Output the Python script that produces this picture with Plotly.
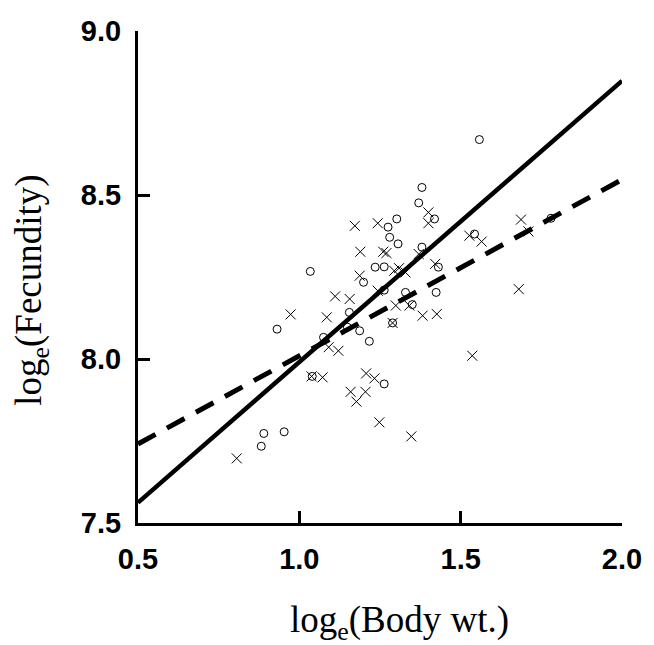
import plotly.graph_objects as go

# Circles (open) : log body weight, log fecundity
circle_x = [1.034, 0.931, 1.075, 1.040, 0.890, 0.953, 0.882, 1.380, 1.370, 1.419,
            1.302, 1.275, 1.280, 1.306, 1.380, 1.235, 1.263, 1.431, 1.199, 1.263,
            1.329, 1.424, 1.350, 1.155, 1.149, 1.187, 1.217, 1.289, 1.263, 1.558,
            1.543, 1.780]
circle_y = [8.267, 8.091, 8.066, 7.947, 7.773, 7.778, 7.734, 8.523, 8.476, 8.427,
            8.427, 8.402, 8.371, 8.351, 8.341, 8.280, 8.281, 8.280, 8.234, 8.210,
            8.203, 8.203, 8.166, 8.142, 8.097, 8.086, 8.054, 8.110, 7.924, 8.669,
            8.381, 8.429]

# Crosses
cross_x = [1.111, 0.973, 1.085, 1.091, 1.121, 1.038, 1.072, 0.806, 1.172, 1.243,
           1.400, 1.400, 1.189, 1.260, 1.270, 1.187, 1.294, 1.309, 1.329, 1.370,
           1.421, 1.156, 1.243, 1.299, 1.341, 1.382, 1.426, 1.289, 1.207, 1.233,
           1.159, 1.205, 1.177, 1.248, 1.347, 1.527, 1.565, 1.687, 1.710, 1.680,
           1.536]
cross_y = [8.191, 8.136, 8.127, 8.036, 8.025, 7.947, 7.944, 7.697, 8.406, 8.414,
           8.447, 8.414, 8.327, 8.327, 8.323, 8.254, 8.269, 8.277, 8.264, 8.320,
           8.290, 8.183, 8.208, 8.163, 8.163, 8.132, 8.137, 8.110, 7.956, 7.941,
           7.900, 7.900, 7.870, 7.807, 7.764, 8.376, 8.358, 8.425, 8.389, 8.213,
           8.010]

# Regression lines (endpoints over the x range)
line_x = [0.5, 2.0]
solid_line_y = [7.562, 8.848]
dashed_line_y = [7.741, 8.547]

x_ticks = [0.5, 1.0, 1.5, 2.0]
x_ticklabels = ["0.5", "1.0", "1.5", "2.0"]
y_ticks = [7.5, 8.0, 8.5, 9.0]
y_ticklabels = ["7.5", "8.0", "8.5", "9.0"]

fig = go.Figure()
fig.add_trace(go.Scatter(x=circle_x, y=circle_y, mode="markers",
                         marker=dict(symbol="circle-open", size=8, color="black",
                                     line=dict(width=1, color="black")),
                         showlegend=False, cliponaxis=False))
fig.add_trace(go.Scatter(x=cross_x, y=cross_y, mode="markers",
                         marker=dict(symbol="x-thin-open", size=10, color="black",
                                     line=dict(width=1, color="black")),
                         showlegend=False, cliponaxis=False))
fig.add_trace(go.Scatter(x=line_x, y=dashed_line_y, mode="lines",
                         line=dict(color="black", width=5, dash="20px,13px"),
                         showlegend=False))
fig.add_trace(go.Scatter(x=line_x, y=solid_line_y, mode="lines",
                         line=dict(color="black", width=4.5),
                         showlegend=False))

tickfont = dict(family="Liberation Sans, Arial", size=29, color="black", weight="bold")
fig.update_xaxes(range=[0.5, 2.0], tickmode="array", tickvals=x_ticks, ticktext=x_ticklabels,
                 ticks="inside", ticklen=12, tickwidth=3, tickcolor="black",
                 showline=True, linewidth=3, linecolor="black", showgrid=False,
                 zeroline=False, tickfont=tickfont, ticklabelstandoff=8)
fig.update_yaxes(range=[7.5, 9.0], tickmode="array", tickvals=y_ticks, ticktext=y_ticklabels,
                 ticks="inside", ticklen=12, tickwidth=3, tickcolor="black",
                 showline=True, linewidth=3, linecolor="black", showgrid=False,
                 zeroline=False, tickfont=tickfont, ticklabelstandoff=8)

titlefont = dict(family="Liberation Serif, Times New Roman", size=37, color="black")
fig.update_layout(
    width=654, height=645,
    margin=dict(l=138, r=24, t=31, b=122),
    plot_bgcolor="white", paper_bgcolor="white",
    annotations=[
        dict(text="log<sub>e</sub>(Body wt.)", xref="paper", yref="paper",
             x=0.54, y=-0.202, xanchor="center", yanchor="middle",
             showarrow=False, font=titlefont),
        dict(text="log<sub>e</sub>(Fecundity)", xref="paper", yref="paper",
             x=-0.2195, y=0.4736, xanchor="center", yanchor="middle",
             textangle=-90, showarrow=False, font=titlefont),
    ],
)

fig.write_html("out.html")
